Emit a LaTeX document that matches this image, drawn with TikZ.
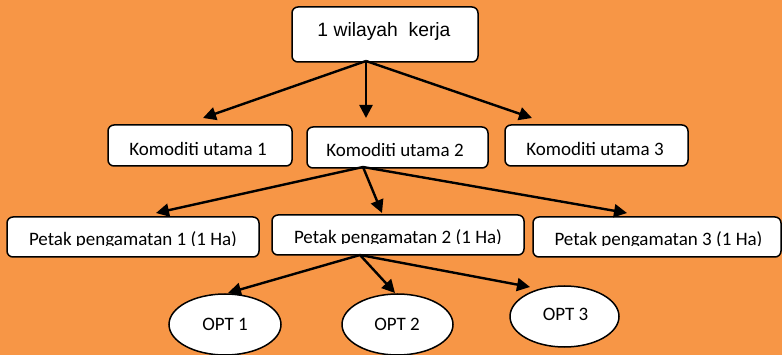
\documentclass[tikz,border=0pt]{standalone}
\usepackage{fontspec}
\setmainfont{Carlito}
\newfontfamily\arialf{Liberation Sans}
\usetikzlibrary{arrows.meta,shapes.geometric}
\definecolor{bgorange}{RGB}{247,150,70}
\tikzset{
  box/.style={draw=black, fill=white, line width=1.5pt, rounded corners=6pt, inner sep=0pt},
  oval/.style={draw=black, fill=white, line width=1.5pt, ellipse, inner sep=0pt},
  txt/.style={anchor=base, inner sep=0pt, font=\fontsize{19}{22}\selectfont},
  conn/.style={line width=2.4pt, -{Triangle[length=13pt,width=13pt]}}
}
\begin{document}
\begin{tikzpicture}[x=1pt,y=-1pt]
\fill[bgorange] (0,0) rectangle (782,355);
\useasboundingbox (0,0) rectangle (782,355);

% top box
\node[box, minimum width=186pt, minimum height=55pt] (top) at (385,34.5) {};
\node[txt, font=\arialf\fontsize{19.3}{22}\selectfont] (topt) at (384,37) {1 wilayah\ \ kerja};

% komoditi
\node[box, minimum width=184pt, minimum height=41pt] (k1) at (200,145.5) {};
\node[txt] (k1t) at (198,155.5) {Komoditi utama 1};
\node[box, minimum width=181pt, minimum height=41pt] (k2) at (397.5,147.5) {};
\node[txt] (k2t) at (395,157) {Komoditi utama 2};
\node[box, minimum width=183pt, minimum height=41pt] (k3) at (596.5,145.5) {};
\node[txt] (k3t) at (595,155.5) {Komoditi utama 3};

% petak
\node[box, minimum width=252pt, minimum height=40pt] (p1) at (133,237) {};
\node[box, minimum width=252pt, minimum height=40pt] (p2) at (398,235) {};
\node[box, minimum width=248pt, minimum height=40pt] (p3) at (657,237) {};
\begin{scope}
\clip (9,218) rectangle (257,246);
\node[txt] (p1t) at (133,245.3) {Petak pengamatan 1 (1 Ha)};
\end{scope}
\begin{scope}
\clip (274,216) rectangle (522,244);
\node[txt] (p2t) at (398,243.3) {Petak pengamatan 2 (1 Ha)};
\end{scope}
\begin{scope}
\clip (535,218) rectangle (779,246);
\node[txt] (p3t) at (658.5,245.3) {Petak pengamatan 3 (1 Ha)};
\end{scope}

% OPT
\node[oval, minimum width=112pt, minimum height=61pt] (o1) at (225,324.5) {};
\node[txt] (o1t) at (225,331) {OPT 1};
\node[oval, minimum width=111pt, minimum height=61pt] (o2) at (397.5,324.5) {};
\node[txt] (o2t) at (397,331) {OPT 2};
\node[oval, minimum width=109pt, minimum height=61pt] (o3) at (564.5,316.5) {};
\node[txt] (o3t) at (565.5,321) {OPT 3};

% connector points
\coordinate (s1) at (366,61);
\coordinate (t11) at (203,118);
\coordinate (t12) at (366,118);
\coordinate (t13) at (532,118);
\coordinate (s2) at (363,167);
\coordinate (t21) at (156,213);
\coordinate (t22) at (382,213);
\coordinate (t23) at (627,213);
\coordinate (s3) at (360,255);
\coordinate (t31) at (228,293);
\coordinate (t32) at (395,293);
\coordinate (t33) at (530,287);

\draw[conn] (s1) -- (t11);
\draw[conn] (s1) -- (t12);
\draw[conn] (s1) -- (t13);
\draw[conn] (s2) -- (t21);
\draw[conn] (s2) -- (t22);
\draw[conn] (s2) -- (t23);
\draw[conn] (s3) -- (t31);
\draw[conn] (s3) -- (t32);
\draw[conn] (s3) -- (t33);
\end{tikzpicture}
\end{document}
